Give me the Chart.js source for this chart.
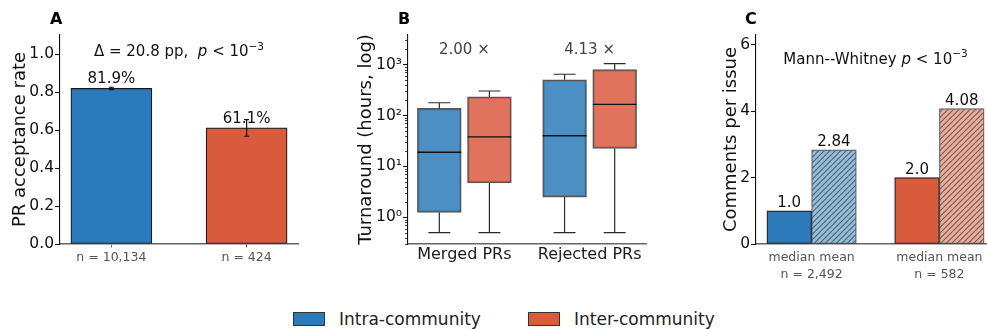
<!DOCTYPE html>
<html>
<head>
<meta charset="utf-8">
<script src="https://cdn.jsdelivr.net/npm/chart.js@4.4.1/dist/chart.umd.min.js"></script>
<style>
  html, body { margin: 0; padding: 0; background: #fff; width: 987px; height: 329px; overflow: hidden; }
  body { position: relative; font-family: "DejaVu Sans", sans-serif; }
  canvas { position: absolute; }
  .lg-item { position: absolute; top: 309px; height: 20px; display: flex; align-items: center; font-size: 17px; color: #222; white-space: nowrap; }
  .lg-swatch { width: 30px; height: 12px; border: 1px solid #333; margin-right: 14px; }
</style>
</head>
<body>
<canvas id="panelA" width="320" height="290" style="left:0;top:0"></canvas>
<canvas id="panelB" width="330" height="290" style="left:330px;top:0"></canvas>
<canvas id="panelC" width="300" height="290" style="left:700px;top:0"></canvas>
<div id="legend"></div>

<script>
// ---- Data -----------------------------------------------------------------
const groupNames = ['Intra-community', 'Inter-community'];

// A: PR acceptance rate with confidence interval
const acceptRate   = [0.819, 0.611];
const acceptLow    = [0.813, 0.567];
const acceptHigh   = [0.825, 0.655];
const acceptNLabels = ['n = 10,134', 'n = 424'];
const acceptTicks  = [0, 0.2, 0.4, 0.6, 0.8, 1.0];

// B: turnaround time distribution (hours)
const prCategories = ['Merged PRs', 'Rejected PRs'];
const intraWhiskerLow  = [0.5, 0.5];
const intraQ1          = [1.25, 2.5];
const intraMedian      = [19.0, 40.0];
const intraQ3          = [138, 503];
const intraWhiskerHigh = [178, 646];
const interWhiskerLow  = [0.5, 0.5];
const interQ1          = [4.75, 22.6];
const interMedian      = [38.0, 165.2];
const interQ3          = [232, 796];
const interWhiskerHigh = [303, 1041];
const turnaroundTicks  = [1, 10, 100, 1000];

// C: comments per issue
const commentStats    = ['median', 'mean'];
const intraComments   = [1.0, 2.84];
const interComments   = [2.0, 4.08];
const commentNLabels  = ['n = 2,492', 'n = 582'];
const commentTicks    = [0, 2, 4, 6];

// ---- Styling ----------------------------------------------------------------
const FONT = '"DejaVu Sans", sans-serif';
const BLUE = '#2b7bba';
const RED = '#d95b3e';
const BLUE_BOX = 'rgba(43,123,186,0.85)';
const RED_BOX = 'rgba(217,91,62,0.85)';
const BLUE_LIGHT = 'rgb(149,189,220)';
const RED_LIGHT = 'rgb(236,173,158)';

Chart.defaults.font.family = FONT;
Chart.defaults.color = '#111';

function hatchPattern(bg) {
  const s = 11;
  const c = document.createElement('canvas');
  c.width = s; c.height = s;
  const g = c.getContext('2d');
  g.fillStyle = bg;
  g.fillRect(0, 0, s, s);
  g.strokeStyle = 'rgba(35,35,35,0.6)';
  g.lineWidth = 1.1;
  g.beginPath();
  for (let k = -2; k <= 2; k++) {
    const o = k * s / 2;
    g.moveTo(o, s);
    g.lineTo(o + s, 0);
  }
  g.stroke();
  return g.createPattern(c, 'repeat');
}

// Draw a sequence of text runs centred on cx with a shared baseline
function drawRuns(ctx, runs, cx, baseline, color) {
  let total = 0;
  runs.forEach(r => { ctx.font = r.font; r.w = ctx.measureText(r.text).width; total += r.w; });
  let x = cx - total / 2;
  ctx.save();
  ctx.fillStyle = color;
  ctx.textAlign = 'left';
  ctx.textBaseline = 'alphabetic';
  runs.forEach(r => { ctx.font = r.font; ctx.fillText(r.text, x, baseline + (r.dy || 0)); x += r.w; });
  ctx.restore();
}

const sup = d => String(d).split('').map(ch => ({'0':'⁰','1':'¹','2':'²','3':'³','4':'⁴','5':'⁵','6':'⁶','7':'⁷','8':'⁸','9':'⁹','-':'⁻'}[ch])).join('');

function yAxis(width, title, titlePad, ticks, fmt, extra) {
  return Object.assign({
    afterFit: s => { s.width = width; },
    afterBuildTicks: s => { s.ticks = ticks.map(v => ({ value: v })); },
    border: { display: true, color: '#111', width: 1.1 },
    grid: { display: true, drawOnChartArea: false, drawTicks: true, tickLength: 5, color: '#111', tickWidth: 1.1 },
    ticks: { font: { size: 15.5 }, color: '#111', padding: 1, callback: v => fmt(v) },
    title: { display: true, text: title, font: { size: 18 }, color: '#111', padding: { top: titlePad, bottom: 0 } }
  }, extra);
}

function xAxis(min, max, height, labels, font, color, tickLen, pad, lineHeight) {
  return {
    type: 'linear', min, max,
    offset: false,
    bounds: 'data',
    afterFit: s => { s.height = height; },
    afterBuildTicks: s => { s.ticks = labels.map((_, i) => ({ value: i })); },
    border: { display: true, color: '#666', width: 1.6 },
    grid: { display: tickLen > 0, offset: false, drawOnChartArea: false, drawTicks: tickLen > 0, tickLength: tickLen, color: '#666' },
    ticks: { autoSkip: false, maxRotation: 0, minRotation: 0, padding: pad, color, font: { size: font, lineHeight },
             callback: (v, i) => labels[i] }
  };
}

const common = {
  responsive: false,
  animation: false,
  events: [],
  plugins: { legend: { display: false }, tooltip: { enabled: false } }
};

function panelLetter(ctx, letter, x) {
  ctx.save();
  ctx.font = 'bold 16px ' + FONT;
  ctx.fillStyle = '#000';
  ctx.textAlign = 'left';
  ctx.textBaseline = 'alphabetic';
  ctx.fillText(letter, x, 24);
  ctx.restore();
}

// ---- Panel A ------------------------------------------------------------------
new Chart(document.getElementById('panelA'), {
  type: 'bar',
  data: {
    datasets: groupNames.map((name, i) => ({
      label: name,
      data: [{ x: i, y: acceptRate[i] }],
      backgroundColor: i === 0 ? BLUE : RED,
      borderColor: '#1a1a1a',
      borderWidth: 1.2,
      borderSkipped: false,
      grouped: false,
      barThickness: 81
    }))
  },
  options: Object.assign({}, common, {
    layout: { padding: { left: 0, top: 35, right: 22, bottom: 0 } },
    scales: {
      x: xAxis(-0.38, 1.38, 46, acceptNLabels, 12.5, '#555', 3.5, 3),
      y: yAxis(60, 'PR acceptance rate', 10, acceptTicks, v => v.toFixed(1), { min: 0, max: 1.1 })
    }
  }),
  plugins: [{
    id: 'acceptDecor',
    afterDatasetsDraw(chart) {
      const { ctx, scales: { x, y }, chartArea } = chart;
      panelLetter(ctx, 'A', 50);
      // value labels
      acceptRate.forEach((v, i) => {
        drawRuns(ctx, [{ text: (v * 100).toFixed(1) + '%', font: '15px ' + FONT }], x.getPixelForValue(i), y.getPixelForValue(v) - 5, '#111');
      });
      // confidence interval error bars
      ctx.save();
      ctx.strokeStyle = '#111';
      ctx.lineWidth = 1.2;
      acceptRate.forEach((v, i) => {
        const px = x.getPixelForValue(i);
        const y0 = y.getPixelForValue(acceptLow[i]);
        const y1 = y.getPixelForValue(acceptHigh[i]);
        ctx.beginPath();
        ctx.moveTo(px, y0); ctx.lineTo(px, y1);
        ctx.moveTo(px - 2.5, y0); ctx.lineTo(px + 2.5, y0);
        ctx.moveTo(px - 2.5, y1); ctx.lineTo(px + 2.5, y1);
        ctx.stroke();
      });
      ctx.restore();
      // difference annotation
      const delta = ((acceptRate[0] - acceptRate[1]) * 100).toFixed(1);
      drawRuns(ctx, [
        { text: 'Δ = ' + delta + ' pp,  ', font: '15px ' + FONT },
        { text: 'p', font: 'italic 15px ' + FONT },
        { text: ' < 10', font: '15px ' + FONT },
        { text: '−3', font: '10.5px ' + FONT, dy: -6.5 }
      ], (chartArea.left + chartArea.right) / 2, chartArea.top + 21, '#111');
    }
  }]
});

// ---- Panel B ------------------------------------------------------------------
const boxSeries = [
  { lo: intraWhiskerLow, q1: intraQ1, med: intraMedian, q3: intraQ3, hi: intraWhiskerHigh, color: BLUE_BOX, shift: -0.2 },
  { lo: interWhiskerLow, q1: interQ1, med: interMedian, q3: interQ3, hi: interWhiskerHigh, color: RED_BOX, shift: 0.2 }
];
const BOX_W = 0.35;

new Chart(document.getElementById('panelB'), {
  type: 'bar',
  data: {
    datasets: boxSeries.map((s, k) => ({
      label: groupNames[k],
      data: prCategories.map((_, i) => ({ x: i + s.shift, y: [s.q1[i], s.q3[i]] })),
      backgroundColor: s.color,
      borderColor: 'rgba(45,45,45,0.8)',
      borderWidth: 1.5,
      borderSkipped: false,
      grouped: false,
      barThickness: 43.8
    }))
  },
  options: Object.assign({}, common, {
    layout: { padding: { left: 0, top: 35, right: 14, bottom: 0 } },
    scales: {
      x: xAxis(-0.45, 1.45, 46, prCategories, 16, '#1a1a1a', 0, 1),
      y: yAxis(78, 'Turnaround (hours, log)', 26, turnaroundTicks,
               v => '10' + sup(Math.round(Math.log10(v))),
               { type: 'logarithmic', min: 0.343, max: 3810 })
    }
  }),
  plugins: [{
    id: 'boxDecor',
    afterDatasetsDraw(chart) {
      const { ctx, scales: { x, y }, chartArea } = chart;
      panelLetter(ctx, 'B', 68);
      const half = (x.getPixelForValue(BOX_W) - x.getPixelForValue(0)) / 2;
      ctx.save();
      boxSeries.forEach(s => {
        prCategories.forEach((_, i) => {
          const cx = x.getPixelForValue(i + s.shift);
          const pLo = y.getPixelForValue(s.lo[i]);
          const pQ1 = y.getPixelForValue(s.q1[i]);
          const pQ3 = y.getPixelForValue(s.q3[i]);
          const pHi = y.getPixelForValue(s.hi[i]);
          const pMed = y.getPixelForValue(s.med[i]);
          ctx.strokeStyle = '#2a2a2a';
          ctx.lineWidth = 1.2;
          ctx.beginPath();
          ctx.moveTo(cx, pQ1); ctx.lineTo(cx, pLo);
          ctx.moveTo(cx, pQ3); ctx.lineTo(cx, pHi);
          ctx.moveTo(cx - half / 2, pLo); ctx.lineTo(cx + half / 2, pLo);
          ctx.moveTo(cx - half / 2, pHi); ctx.lineTo(cx + half / 2, pHi);
          ctx.stroke();
          ctx.strokeStyle = '#111';
          ctx.lineWidth = 1.4;
          ctx.beginPath();
          ctx.moveTo(cx - half, pMed); ctx.lineTo(cx + half, pMed);
          ctx.stroke();
        });
      });
      // minor log ticks
      ctx.strokeStyle = '#111';
      ctx.lineWidth = 0.8;
      ctx.beginPath();
      for (let d = -1; d <= 3; d++) {
        for (let m = 2; m <= 9; m++) {
          const v = m * Math.pow(10, d);
          if (v < y.min || v > y.max) continue;
          const py = Math.round(y.getPixelForValue(v)) + 0.5;
          ctx.moveTo(chartArea.left - 3, py); ctx.lineTo(chartArea.left, py);
        }
      }
      ctx.stroke();
      ctx.restore();
      // median ratio labels
      prCategories.forEach((_, i) => {
        const ratio = (interMedian[i] / intraMedian[i]).toFixed(2);
        drawRuns(ctx, [{ text: ratio + ' ×', font: '15px ' + FONT }], x.getPixelForValue(i), chartArea.top + 18.5, '#444');
      });
    }
  }]
});

// ---- Panel C ------------------------------------------------------------------
const commentSeries = [
  { values: intraComments, solid: BLUE, hatch: hatchPattern(BLUE_LIGHT) },
  { values: interComments, solid: RED, hatch: hatchPattern(RED_LIGHT) }
];
const STAT_SHIFT = [-0.175, 0.175];

new Chart(document.getElementById('panelC'), {
  type: 'bar',
  data: {
    datasets: commentSeries.map((s, k) => ({
      label: groupNames[k],
      data: commentStats.map((_, j) => ({ x: k + STAT_SHIFT[j], y: s.values[j] })),
      backgroundColor: [s.solid, s.hatch],
      borderColor: ['#1a1a1a', 'rgba(40,40,40,0.75)'],
      borderWidth: 1.2,
      borderSkipped: false,
      grouped: false,
      barThickness: 44.7
    }))
  },
  options: Object.assign({}, common, {
    layout: { padding: { left: 0, top: 35, right: 5, bottom: 0 } },
    scales: {
      x: xAxis(-0.435, 1.435, 46, commentNLabels.map(n => [commentStats.join(' '), n]), 12.5, '#555', 0, 5, 1.35),
      y: yAxis(56, 'Comments per issue', 21, commentTicks, v => String(v), { min: 0, max: 6.3 })
    }
  }),
  plugins: [{
    id: 'commentDecor',
    afterDatasetsDraw(chart) {
      const { ctx, scales: { x, y }, chartArea } = chart;
      panelLetter(ctx, 'C', 45);
      commentSeries.forEach((s, k) => {
        s.values.forEach((v, j) => {
          const text = j === 0 ? v.toFixed(1) : v.toFixed(2);
          drawRuns(ctx, [{ text, font: '15px ' + FONT }], x.getPixelForValue(k + STAT_SHIFT[j]), y.getPixelForValue(v) - 3.5, '#111');
        });
      });
      drawRuns(ctx, [
        { text: 'Mann--Whitney ', font: '15px ' + FONT },
        { text: 'p', font: 'italic 15px ' + FONT },
        { text: ' < 10', font: '15px ' + FONT },
        { text: '−3', font: '10.5px ' + FONT, dy: -6.5 }
      ], (chartArea.left + chartArea.right) / 2, chartArea.top + 28.5, '#111');
    }
  }]
});

// ---- Shared legend ------------------------------------------------------------
const legend = document.getElementById('legend');
const legendLeft = [293, 528];
groupNames.forEach((name, i) => {
  const item = document.createElement('div');
  item.className = 'lg-item';
  item.style.left = legendLeft[i] + 'px';
  const sw = document.createElement('span');
  sw.className = 'lg-swatch';
  sw.style.background = i === 0 ? BLUE : RED;
  const tx = document.createElement('span');
  tx.textContent = name;
  item.appendChild(sw);
  item.appendChild(tx);
  legend.appendChild(item);
});
</script>
</body>
</html>
